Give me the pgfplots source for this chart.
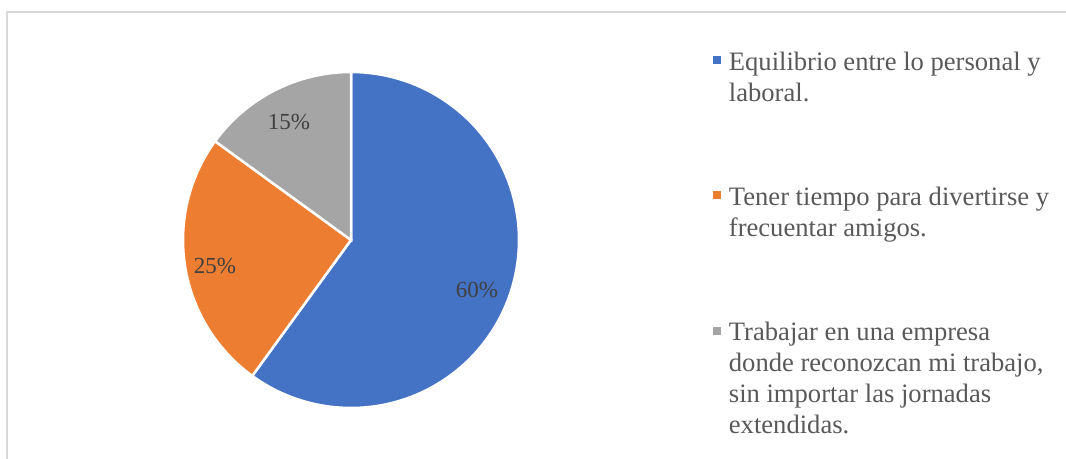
\documentclass[border=0pt]{standalone}
\usepackage{pgfplots}
\pgfplotsset{compat=1.18}
\usepackage{pgfplotstable}
\usepackage{fontspec}
\setmainfont{Liberation Serif}
\definecolor{cBlue}{HTML}{4472C4}
\definecolor{cOrange}{HTML}{ED7D31}
\definecolor{cGray}{HTML}{A5A5A5}
\definecolor{cText}{HTML}{595959}
\definecolor{cLabel}{HTML}{404040}
\definecolor{cFrame}{HTML}{D9D9D9}

\pgfplotstableread{
idx value
0 60
1 25
2 15
}\piedata

\begin{document}
\begin{tikzpicture}
\useasboundingbox (0,0) rectangle (1066bp,459bp);
\draw[cFrame, line width=2bp] (7bp,-5bp) -- (7bp,447bp) -- (1075bp,447bp);
\pgfplotstablegetelem{0}{value}\of\piedata \let\va\pgfplotsretval
\pgfplotstablegetelem{1}{value}\of\piedata \let\vb\pgfplotsretval
\pgfplotstablegetelem{2}{value}\of\piedata \let\vc\pgfplotsretval
\pgfmathsetmacro{\aA}{90}
\pgfmathsetmacro{\aB}{90-3.6*\va}
\pgfmathsetmacro{\aC}{\aB-3.6*\vb}
\pgfmathsetmacro{\aD}{\aC-3.6*\vc}
\begin{axis}[
  at={(351bp,219bp)}, anchor=origin,
  x=168bp, y=168bp, xmin=-1, xmax=1, ymin=-1, ymax=1,
  hide axis, clip=false,
  legend style={at={(1.5765,1.0705)}, anchor=north west, draw=none, fill=none,
    inner sep=0pt, nodes={inner sep=0pt},
    font=\fontsize{26.6bp}{31bp}\selectfont, text=cText,
    cells={anchor=base west}, row sep=112bp, column sep=8bp},
  legend image code/.code={\fill[#1, draw=none] (0bp,6bp) rectangle (8bp,14bp);},
]
\addplot[fill=cBlue, draw=white, line width=2.5bp, domain=\aA:\aB, samples=150] ({cos(x)},{sin(x)}) -- (axis cs:0,0) -- cycle;
\addlegendentry{\parbox[t]{340bp}{\strut Equilibrio entre lo personal y\\laboral.\strut}}
\addplot[fill=cOrange, draw=white, line width=2.5bp, domain=\aB:\aC, samples=80] ({cos(x)},{sin(x)}) -- (axis cs:0,0) -- cycle;
\addlegendentry{\parbox[t]{340bp}{\strut Tener tiempo para divertirse y\\frecuentar amigos.\strut}}
\addplot[fill=cGray, draw=white, line width=2.5bp, domain=\aC:\aD, samples=60] ({cos(x)},{sin(x)}) -- (axis cs:0,0) -- cycle;
\addlegendentry{\parbox[t]{340bp}{\strut Trabajar en una empresa\\donde reconozcan mi trabajo,\\sin importar las jornadas\\extendidas.\strut}}
\node[font=\fontsize{23bp}{27bp}\selectfont, text=cLabel] at (axis cs:0.75,-0.298) {60\%};
\node[font=\fontsize{23bp}{27bp}\selectfont, text=cLabel] at (axis cs:-0.81,-0.155) {25\%};
\node[font=\fontsize{23bp}{27bp}\selectfont, text=cLabel] at (axis cs:-0.369,0.702) {15\%};
\end{axis}
\end{tikzpicture}
\end{document}
